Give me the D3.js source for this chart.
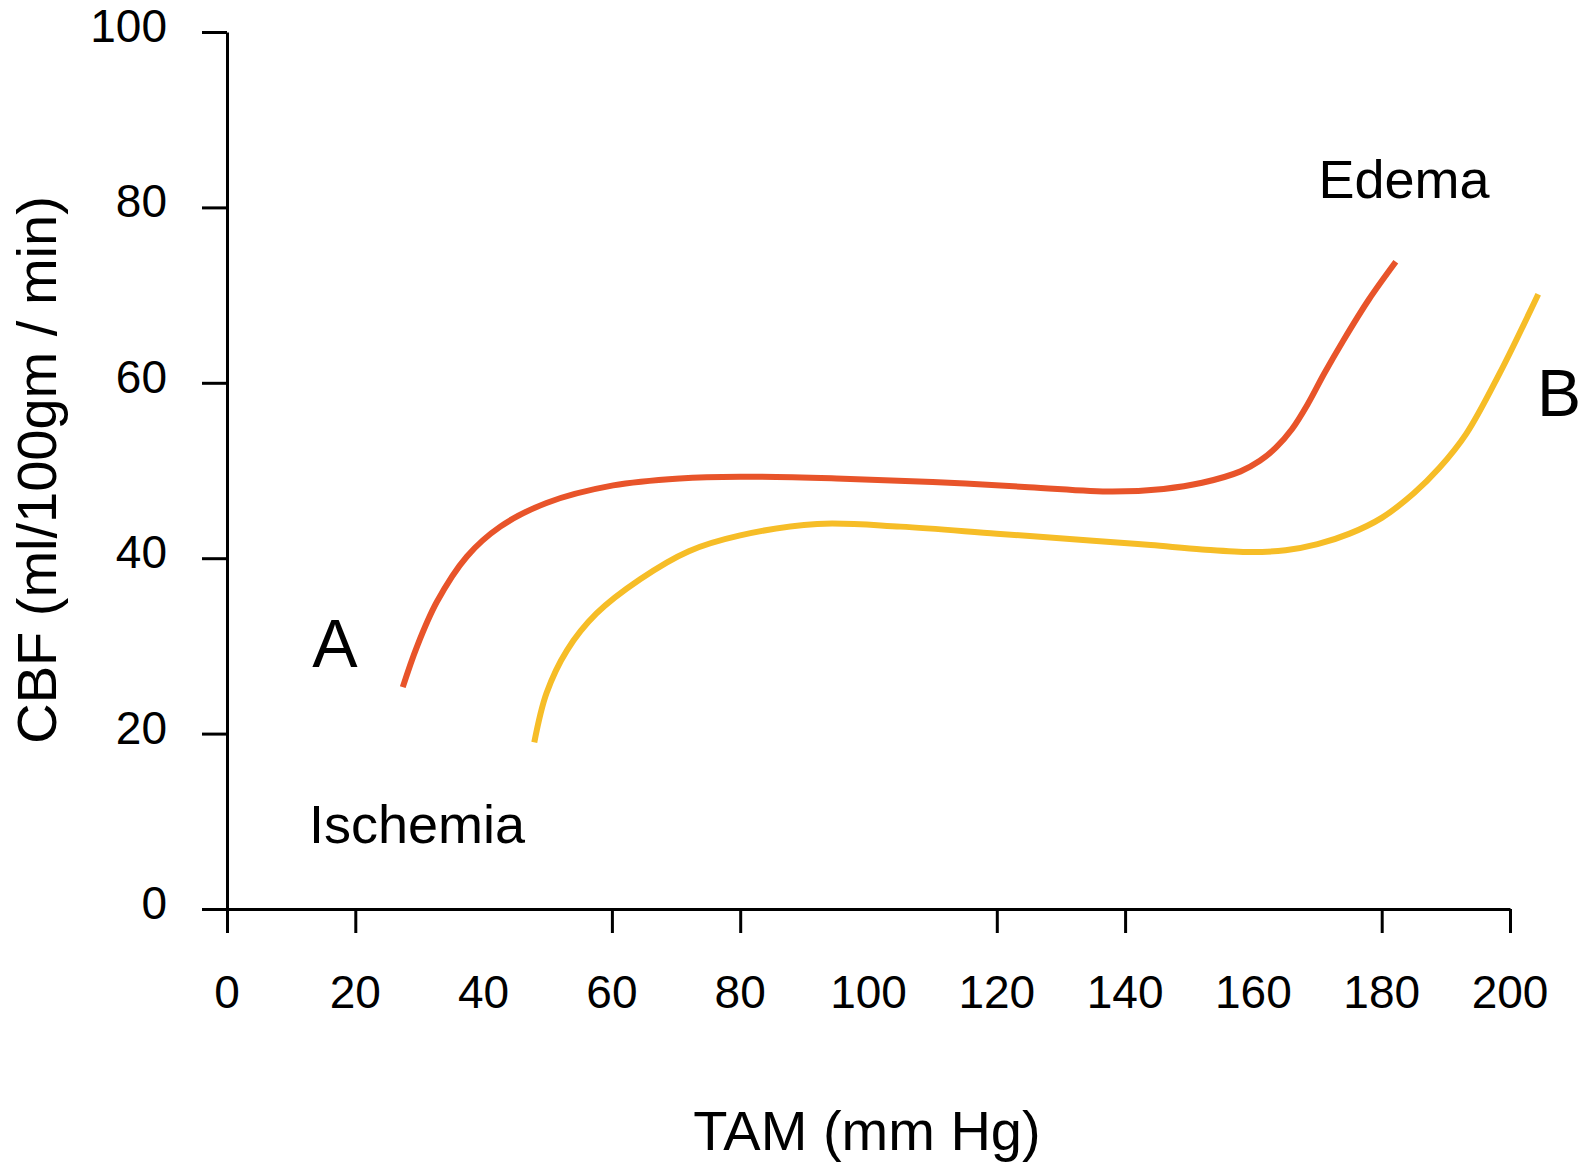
<!DOCTYPE html>
<html>
<head>
<meta charset="utf-8">
<script src="https://cdn.jsdelivr.net/npm/d3@7"></script>
<style>
  body { margin: 0; background: #fff; }
  text { font-family: "Liberation Sans", Arial, Helvetica, sans-serif; fill: #000; }
</style>
</head>
<body>
<svg id="chart" width="1584" height="1176"></svg>
<script>
// curve A (red) - TAM / CBF pairs
var curveA_x = [27.4, 29.6, 32.7, 37.4, 42.6, 49.8, 60.2, 70.6, 80, 95, 110, 125, 138, 146, 152, 158, 161, 163.5, 166, 168.5, 171, 174, 178, 182.2];
var curveA_y = [25.3, 29.9, 35.0, 40.2, 43.6, 46.3, 48.3, 49.1, 49.3, 49.1, 48.7, 48.1, 47.6, 47.9, 48.6, 49.9, 51.1, 52.6, 54.7, 57.6, 61.0, 64.8, 69.5, 73.8];

// curve B (yellow)
var curveB_x = [47.9, 49.8, 53.0, 57.6, 64.4, 72, 80, 92, 105, 120, 135, 144, 152, 159.5, 165, 170, 175, 180, 185, 189, 193.2, 198.4, 204.4];
var curveB_y = [19.0, 24.6, 29.5, 33.7, 37.6, 40.8, 42.6, 43.9, 43.6, 42.8, 42.0, 41.5, 41.0, 40.7, 40.9, 41.6, 42.8, 44.6, 47.4, 50.3, 54.2, 61.1, 70.1];

var xTickLabels = [0, 20, 40, 60, 80, 100, 120, 140, 160, 180, 200];
var xTickMarks = [0, 20, 60, 80, 120, 140, 180, 200];
var yTickLabels = [0, 20, 40, 60, 80, 100];

function main() {
    var svg = d3.select("#chart");

    var xScale = d3.scaleLinear().domain([0, 200]).range([227, 1510]),
        yScale = d3.scaleLinear().domain([0, 100]).range([909, 32]);

    // x axis: line + tick marks (some ticks missing in the original)
    var xAxis = svg.append("g")
        .attr("transform", "translate(0,909)")
        .call(d3.axisBottom(xScale).tickValues(xTickMarks).tickSize(24).tickSizeOuter(0).tickFormat(""));
    xAxis.selectAll("path, line").attr("stroke", "#000").attr("stroke-width", 3);

    var yAxis = svg.append("g")
        .attr("transform", "translate(227,0)")
        .call(d3.axisLeft(yScale).tickValues(yTickLabels).tickSize(25).tickSizeOuter(0).tickFormat(""));
    yAxis.selectAll("path, line").attr("stroke", "#000").attr("stroke-width", 3);

    svg.selectAll(".xlab")
        .data(xTickLabels)
        .enter().append("text")
        .attr("class", "xlab")
        .attr("x", function(d) { return xScale(d); })
        .attr("y", 1008)
        .attr("text-anchor", "middle")
        .attr("font-size", 46)
        .text(function(d) { return d; });

    svg.selectAll(".ylab")
        .data(yTickLabels)
        .enter().append("text")
        .attr("class", "ylab")
        .attr("x", 167)
        .attr("y", function(d) { return yScale(d) + 10; })
        .attr("text-anchor", "end")
        .attr("font-size", 46)
        .text(function(d) { return d; });

    // axis titles
    svg.append("text")
        .attr("x", 867)
        .attr("y", 1150)
        .attr("text-anchor", "middle")
        .attr("font-size", 56)
        .text("TAM (mm Hg)");

    svg.append("text")
        .attr("transform", "translate(56,470) rotate(-90)")
        .attr("text-anchor", "middle")
        .attr("font-size", 56)
        .text("CBF (ml/100gm / min)");

    var line = d3.line()
        .x(function(d) { return xScale(d[0]); })
        .y(function(d) { return yScale(d[1]); })
        .curve(d3.curveCatmullRom.alpha(0.5));

    svg.append("path")
        .datum(d3.zip(curveA_x, curveA_y))
        .attr("fill", "none")
        .attr("stroke", "#E8542A")
        .attr("stroke-width", 6)
        .attr("d", line);

    svg.append("path")
        .datum(d3.zip(curveB_x, curveB_y))
        .attr("fill", "none")
        .attr("stroke", "#F6BD27")
        .attr("stroke-width", 6)
        .attr("d", line);

    // annotations
    svg.append("text").attr("x", 1404).attr("y", 198).attr("text-anchor", "middle")
        .attr("font-size", 54).text("Edema");
    svg.append("text").attr("x", 417).attr("y", 843).attr("text-anchor", "middle")
        .attr("font-size", 54).text("Ischemia");
    svg.append("text").attr("x", 335).attr("y", 667).attr("text-anchor", "middle")
        .attr("font-size", 68).text("A");
    svg.append("text").attr("x", 1537).attr("y", 416)
        .attr("font-size", 66).text("B");
}
main();
</script>
</body>
</html>
